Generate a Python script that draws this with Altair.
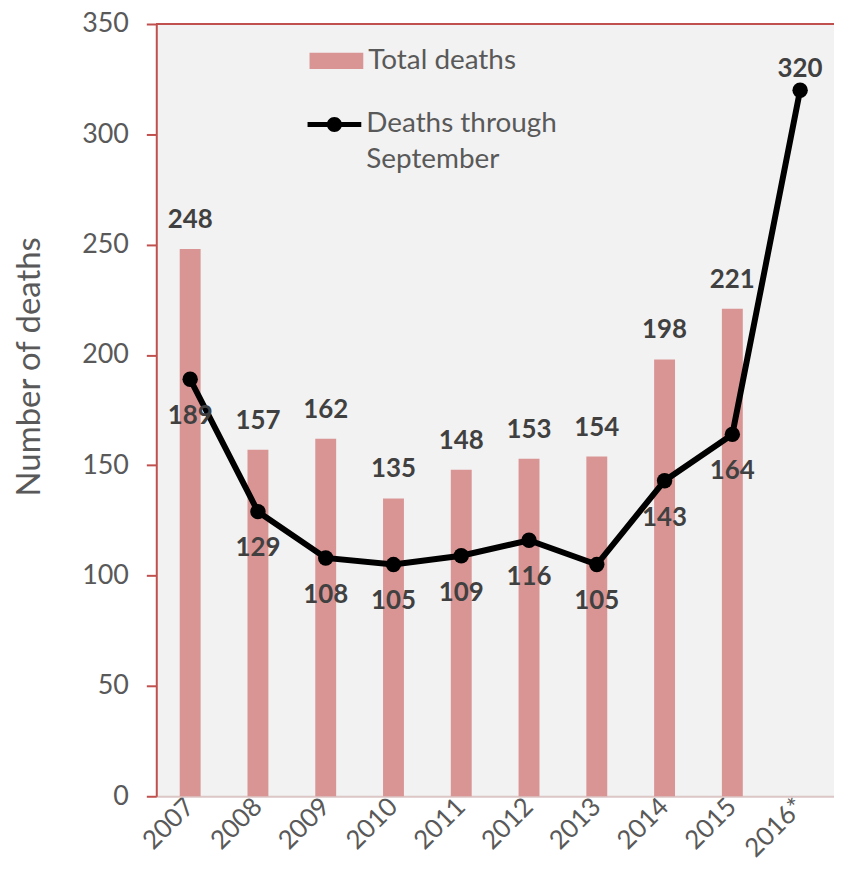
import altair as alt
import pandas as pd

years = ["2007", "2008", "2009", "2010", "2011", "2012", "2013", "2014", "2015", "2016*"]
total_deaths = [248, 157, 162, 135, 148, 153, 154, 198, 221, None]
sept_deaths = [189, 129, 108, 105, 109, 116, 105, 143, 164, 320]
y_ticks = [0, 50, 100, 150, 200, 250, 300, 350]

df = pd.DataFrame({
    "year": years,
    "total": total_deaths,
    "sept": sept_deaths,
    "s1": ["Total deaths"] * len(years),
    "s2": ["Deaths through|September"] * len(years),
})

RED = "#c0504d"
BAR = "#d99594"
FONT = "Lato"
LAB = "#595959"
DARK = "#404040"

xenc = alt.X("year:N", sort=years,
             scale=alt.Scale(paddingInner=0.69, paddingOuter=0.345),
             axis=alt.Axis(title=None, labelAngle=-45, labelAlign="right",
                           labelBaseline="middle", labelPadding=6,
                           labelFontSize=26, labelColor=LAB, labelFont=FONT,
                           ticks=False, domainColor="#dcc6c6", domainWidth=2))
yscale = alt.Scale(domain=[0, 350], nice=False)
yaxis = alt.Axis(values=y_ticks, title="Number of deaths", titleFontSize=33,
                 titleFontWeight="normal", titleColor=LAB, titleFont=FONT,
                 titlePadding=35, titleY=344, labelFontSize=27, labelColor=LAB, labelFont=FONT,
                 labelPadding=18, tickSize=10, tickColor=RED, tickWidth=2,
                 domainColor=RED, domainWidth=2, grid=False)

base = alt.Chart(df)

bars = base.mark_bar(size=21).encode(
    x=xenc,
    y=alt.Y("total:Q", scale=yscale, axis=yaxis),
    fill=alt.Fill("s1:N", scale=alt.Scale(range=[BAR]),
                  legend=alt.Legend(title=None, orient="none", legendX=154, legendY=10,
                                    symbolType="M-1,-0.3L1,-0.3L1,0.3L-1,0.3Z",
                                    symbolSize=2916, symbolStrokeWidth=0,
                                    labelFontSize=28, labelColor=LAB, labelFont=FONT,
                                    labelOffset=5, labelLimit=400)),
)

top_rule = base.mark_rule(color=RED, strokeWidth=2).encode(y=alt.datum(350))

line = base.mark_line(strokeWidth=6).encode(
    x=alt.X("year:N", sort=years),
    y=alt.Y("sept:Q", scale=yscale),
    stroke=alt.Stroke("s2:N", scale=alt.Scale(range=["black"]),
                      legend=alt.Legend(title=None, orient="none", legendX=152, legendY=74,
                                        symbolType="M-1,-0.09L1,-0.09L1,0.09L-1,0.09Z M0.28,0A0.28,0.28,0,1,1,-0.28,0A0.28,0.28,0,1,1,0.28,0Z",
                                        symbolSize=2916, symbolStrokeWidth=0,
                                        symbolFillColor="black",
                                        labelFontSize=28, labelColor=LAB, labelFont=FONT,
                                        labelOffset=5, labelLimit=400,
                                        labelExpr="split(datum.label, '|')")),
)

points = base.mark_point(filled=True, size=240, color="black", opacity=1).encode(
    x=alt.X("year:N", sort=years),
    y=alt.Y("sept:Q", scale=yscale),
)

total_labels = base.mark_text(font=FONT, fontWeight="bold", fontSize=26, color=DARK,
                              baseline="middle", dy=-29).encode(
    x=alt.X("year:N", sort=years),
    y=alt.Y("total:Q", scale=yscale),
    text=alt.Text("total:Q"),
).transform_filter("isValid(datum.total)")

sept_below = base.mark_text(font=FONT, fontWeight="bold", fontSize=26, color=DARK,
                            baseline="middle", dy=37).encode(
    x=alt.X("year:N", sort=years),
    y=alt.Y("sept:Q", scale=yscale),
    text=alt.Text("sept:Q"),
).transform_filter("datum.year != '2016*'")

sept_above = base.mark_text(font=FONT, fontWeight="bold", fontSize=26, color=DARK,
                            baseline="middle", dy=-21).encode(
    x=alt.X("year:N", sort=years),
    y=alt.Y("sept:Q", scale=yscale),
    text=alt.Text("sept:Q"),
).transform_filter("datum.year == '2016*'")

chart = alt.layer(bars, top_rule, line, points, total_labels, sept_below, sept_above).properties(
    width=681, height=776,
    autosize=alt.AutoSizeParams(type="none"),
    padding={"left": 149, "top": 14, "right": 0, "bottom": 68},
).resolve_legend(fill="independent", stroke="independent").configure(
    style={"guide-label": {"lineHeight": 36}}
).configure_view(
    fill="#f2f2f2", stroke=None
)

chart.save("out.html", embed_options={"renderer": "svg", "actions": False})
